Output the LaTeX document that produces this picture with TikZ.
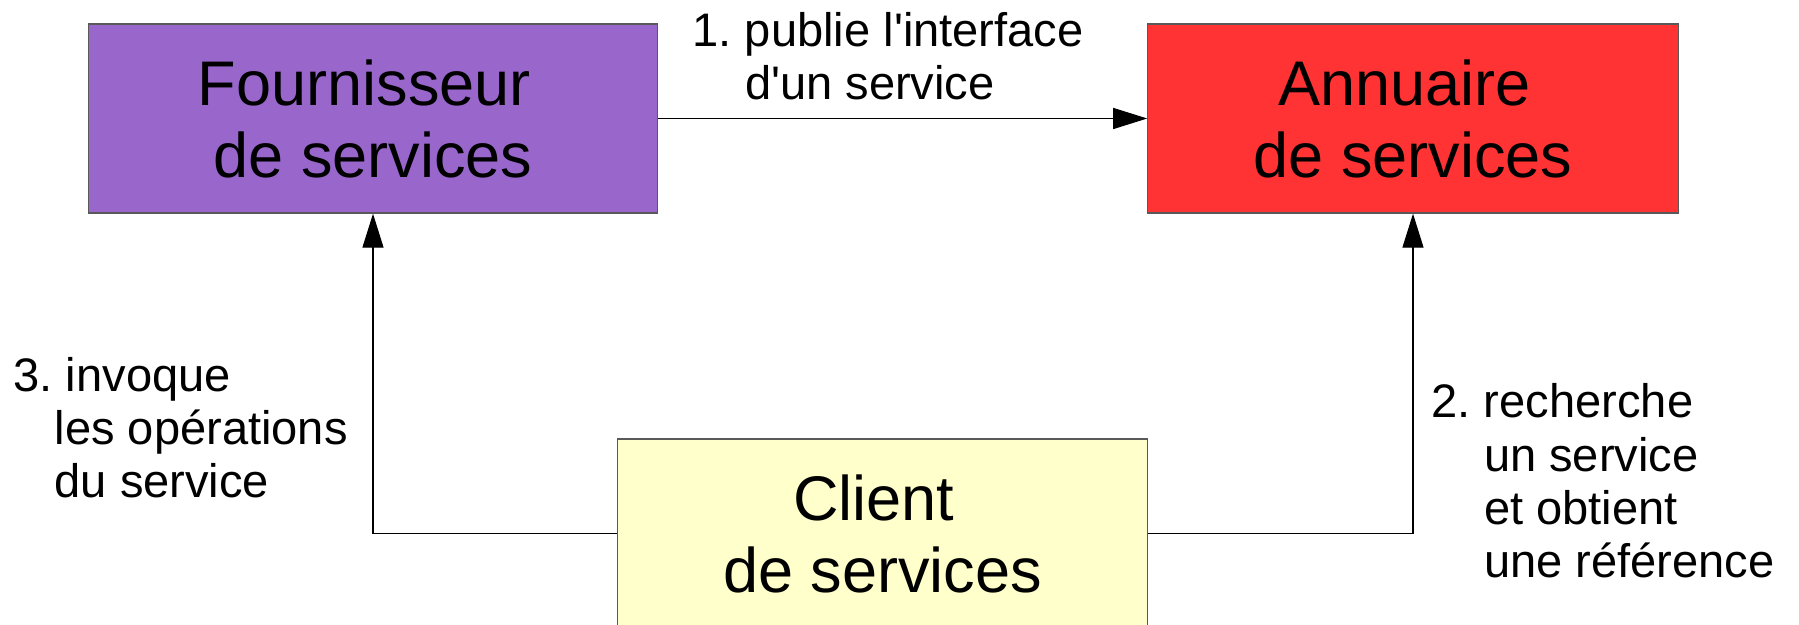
\documentclass[tikz,border=0pt]{standalone}
\usepackage{fontspec}
\setmainfont{Liberation Sans}
\usetikzlibrary{arrows.meta}
\definecolor{fourcol}{HTML}{9966CC}
\definecolor{annucol}{HTML}{FF3333}
\definecolor{clientcol}{HTML}{FFFFCC}
\frenchspacing
\begin{document}
\begin{tikzpicture}[x=0.01cm,y=-0.01cm,
  box/.style={draw=black!65, line width=0.35pt, inner sep=0pt, align=center,
    minimum height=1.89cm, font=\fontsize{17.93pt}{20.49pt}\selectfont},
  lbl/.style={anchor=base west, inner sep=0pt, align=left,
    font=\fontsize{13.38pt}{15.2pt}\selectfont},
  arr/.style={draw=black, line width=0.35pt,
    -{Triangle[length=0.34cm,width=0.21cm]}}]
\useasboundingbox (0,0) rectangle (1799,625);
\fill[white] (0,0) rectangle (1799,625);

% the three actors
\node[box, fill=fourcol, minimum width=5.68cm] (four) at (373,118.5)
  {Fournisseur\hspace*{.278em}\\de services};
\node[box, fill=annucol, minimum width=5.30cm] (annu) at (1413,118.5)
  {Annuaire\hspace*{.278em}\\de services};
\node[box, fill=clientcol, minimum width=5.29cm] (client) at (882.5,533.5)
  {Client\hspace*{.278em}\\de services};

% interactions
\draw[arr] (four.east) -- (annu.west);
\draw[arr] (client.east) -| (annu.south);
\draw[arr] (client.west) -| (four.south);

% step labels (base anchor sits on the last line)
\node[lbl] (l1) at (692,100)
  {1. publie l\textquotesingle interface\\\phantom{1. }d\textquotesingle un service};
\node[lbl] (l2) at (1431,578)
  {2. recherche\\\phantom{2. }un service\\\phantom{2. }et obtient\\\phantom{2. }une référence};
\node[lbl] (l3) at (13,498)
  {3. invoque\\\hspace*{0.41cm}les opérations\\\hspace*{0.41cm}du service};
\end{tikzpicture}
\end{document}
